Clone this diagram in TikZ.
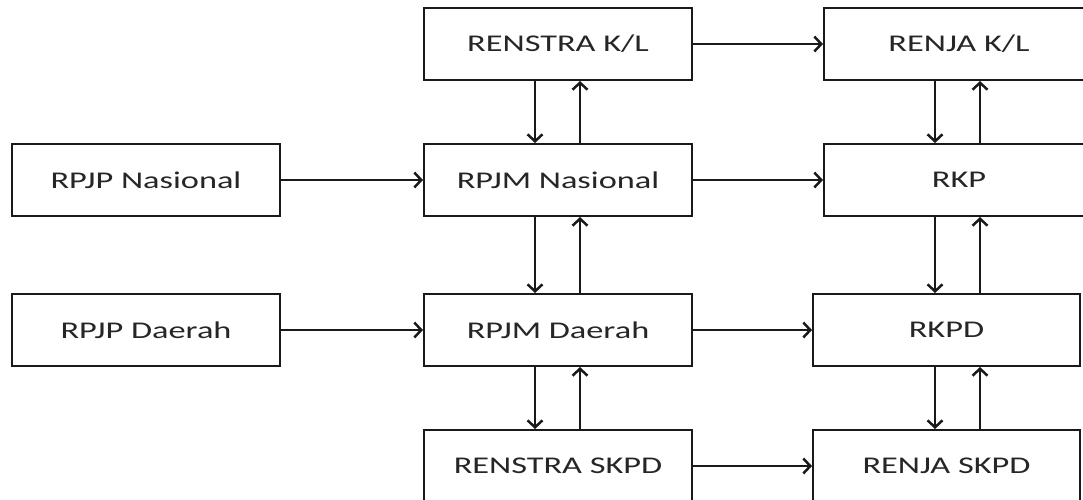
\documentclass[tikz,border=0pt]{standalone}
\usepackage{fontspec}
\setmainfont{Carlito}[FakeStretch=1.43]
\usetikzlibrary{arrows.meta}
\definecolor{inkline}{HTML}{1A1A1A}
\definecolor{inktext}{HTML}{262626}
\tikzset{
  plan/.style={draw=inkline, line width=2.8pt, fill=white, inner sep=0pt, outer sep=0pt,
    minimum height=72pt, text=inktext, font=\fontsize{24}{28}\selectfont},
  flow/.style={draw=inkline, line width=2.5pt,
    -{Straight Barb[length=7pt,width=15pt]}, shorten >=1pt}
}
\begin{document}
\begin{tikzpicture}[x=1pt,y=-1pt]
  \useasboundingbox (0,0) rectangle (1083,499);
  \fill[white] (0,0) rectangle (1083,499);
  \clip (0,0) rectangle (1083,499);

  % left column
  \node[plan, minimum width=268pt] (rpjpn) at (146,180) {RPJP Nasional};
  \node[plan, minimum width=268pt] (rpjpd) at (146,330) {RPJP Daerah};

  % middle column
  \node[plan, minimum width=268pt] (renstrakl) at (558,44)  {RENSTRA K/L};
  \node[plan, minimum width=268pt] (rpjmn)     at (558,180) {RPJM Nasional};
  \node[plan, minimum width=268pt] (rpjmd)     at (558,330) {RPJM Daerah};
  \node[plan, minimum width=268pt] (renstrask) at (558,466) {RENSTRA SKPD};

  % right column
  \node[plan, minimum width=270pt] (renjakl) at (959,44)  {RENJA K/L};
  \node[plan, minimum width=270pt] (rkp)     at (959,180) {RKP};
  \node[plan, minimum width=267pt] (rkpd)    at (946.5,330) {RKPD};
  \node[plan, minimum width=267pt] (renjask) at (946.5,466) {RENJA SKPD};

  % vertical lanes
  \coordinate (dm) at (535,0);
  \coordinate (um) at (580,0);
  \coordinate (dr) at (935,0);
  \coordinate (ur) at (980,0);

  % horizontal flows
  \draw[flow] (rpjpn) -- (rpjmn);
  \draw[flow] (rpjpd) -- (rpjmd);
  \draw[flow] (renstrakl) -- (renjakl);
  \draw[flow] (rpjmn) -- (rkp);
  \draw[flow] (rpjmd) -- (rkpd);
  \draw[flow] (renstrask) -- (renjask);

  % vertical flows, middle column
  \draw[flow] (renstrakl.south -| dm) -- (rpjmn.north -| dm);
  \draw[flow] (rpjmn.north -| um) -- (renstrakl.south -| um);
  \draw[flow] (rpjmn.south -| dm) -- (rpjmd.north -| dm);
  \draw[flow] (rpjmd.north -| um) -- (rpjmn.south -| um);
  \draw[flow] (rpjmd.south -| dm) -- (renstrask.north -| dm);
  \draw[flow] (renstrask.north -| um) -- (rpjmd.south -| um);

  % vertical flows, right column
  \draw[flow] (renjakl.south -| dr) -- (rkp.north -| dr);
  \draw[flow] (rkp.north -| ur) -- (renjakl.south -| ur);
  \draw[flow] (rkp.south -| dr) -- (rkpd.north -| dr);
  \draw[flow] (rkpd.north -| ur) -- (rkp.south -| ur);
  \draw[flow] (rkpd.south -| dr) -- (renjask.north -| dr);
  \draw[flow] (renjask.north -| ur) -- (rkpd.south -| ur);
\end{tikzpicture}
\end{document}
